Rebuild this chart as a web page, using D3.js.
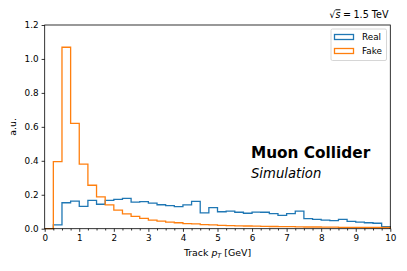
<!DOCTYPE html>
<html>
<head>
<meta charset="utf-8">
<script src="https://cdn.jsdelivr.net/npm/d3@7"></script>
<style>
  body { margin: 0; background: #fff; }
  text { font-family: "DejaVu Sans", sans-serif; fill: #000; }
</style>
</head>
<body>
<div id="chart-area"></div>
<script>
// Datos del histograma (bins de 0.25 GeV entre 0 y 10)
const binWidth = 0.25;
const realValues = [0, 0.022, 0.153, 0.163, 0.132, 0.167, 0.144, 0.167, 0.173, 0.179,
    0.156, 0.159, 0.151, 0.141, 0.136, 0.130, 0.140, 0.161, 0.093, 0.124,
    0.100, 0.104, 0.097, 0.091, 0.098, 0.097, 0.089, 0.079, 0.089, 0.103,
    0.059, 0.055, 0.051, 0.047, 0.055, 0.043, 0.039, 0.035, 0.032, 0.012];
const fakeValues = [0, 0.395, 1.069, 0.621, 0.381, 0.256, 0.187, 0.140, 0.110, 0.087,
    0.073, 0.061, 0.051, 0.045, 0.039, 0.035, 0.030, 0.028, 0.024, 0.022,
    0.020, 0.018, 0.017, 0.016, 0.015, 0.014, 0.013, 0.012, 0.012, 0.011,
    0.010, 0.010, 0.009, 0.009, 0.008, 0.008, 0.008, 0.007, 0.007, 0.007];
const xTicks = [0, 1, 2, 3, 4, 5, 6, 7, 8, 9, 10];
const yTicks = [0.0, 0.2, 0.4, 0.6, 0.8, 1.0, 1.2];
const seriesNames = ["Real", "Fake"];
const seriesColors = ["#1f77b4", "#ff7f0e"];

const width = 407;
const height = 271;
const plotLeft = 44.7, plotRight = 390.3, plotTop = 25, plotBottom = 228.7;

const svg = d3.select("#chart-area")
    .append("svg")
    .attr("width", width)
    .attr("height", height);

const x = d3.scaleLinear().domain([0, 10]).range([plotLeft, plotRight]);
const y = d3.scaleLinear().domain([0, 1.2]).range([plotBottom, plotTop]);

// Histogramas tipo "step"
function stepPoints(values) {
    const pts = [[0, 0]];
    values.forEach((v, i) => {
        pts.push([i * binWidth, v]);
        pts.push([(i + 1) * binWidth, v]);
    });
    pts.push([values.length * binWidth, 0]);
    return pts;
}

const line = d3.line().x(d => x(d[0])).y(d => y(d[1]));

[realValues, fakeValues].forEach((vals, i) => {
    svg.append("path")
        .attr("d", line(stepPoints(vals)))
        .attr("fill", "none")
        .attr("stroke", seriesColors[i])
        .attr("stroke-width", 1.3)
        .attr("stroke-linejoin", "miter");
});

// Ejes
const xAxis = svg.append("g")
    .attr("transform", `translate(0,${plotBottom})`)
    .call(d3.axisBottom(x).tickValues(xTicks).tickFormat(d3.format("d")).tickSize(3.1).tickPadding(3));
const xMinor = svg.append("g")
    .attr("transform", `translate(0,${plotBottom})`)
    .call(d3.axisBottom(x).tickValues(d3.range(0, 10.001, 0.25).filter(v => v % 1 !== 0)).tickSize(1.8).tickFormat(""));
const yAxis = svg.append("g")
    .attr("transform", `translate(${plotLeft},0)`)
    .call(d3.axisLeft(y).tickValues(yTicks).tickFormat(d3.format(".1f")).tickSize(3.1).tickPadding(3));

[xAxis, xMinor, yAxis].forEach(g => {
    g.select(".domain").remove();
    g.selectAll("line").attr("stroke", "#000").attr("stroke-width", 0.8);
    g.selectAll("text").style("font-size", "8.8px").style("font-family", "DejaVu Sans");
});

// Marco
svg.append("rect")
    .attr("x", plotLeft).attr("y", plotTop)
    .attr("width", plotRight - plotLeft).attr("height", plotBottom - plotTop)
    .attr("fill", "none").attr("stroke", "#000").attr("stroke-width", 0.8);

// Etiquetas de ejes
const xl = svg.append("text")
    .attr("x", (plotLeft + plotRight) / 2).attr("y", 256)
    .attr("text-anchor", "middle")
    .style("font-size", "9.4px");
xl.append("tspan").text("Track ");
xl.append("tspan").style("font-style", "italic").text("p");
xl.append("tspan").style("font-style", "italic").style("font-size", "6.6px").attr("dy", 2).text("T");
xl.append("tspan").attr("dy", -2).text(" [GeV]");

svg.append("text")
    .attr("transform", `translate(16,${(plotTop + plotBottom) / 2}) rotate(-90)`)
    .attr("text-anchor", "middle")
    .style("font-size", "9.4px")
    .text("a.u.");

// Energía
const en = svg.append("text")
    .attr("x", 388.5).attr("y", 18.3)
    .attr("text-anchor", "end")
    .style("font-size", "9.6px");
en.append("tspan").text("√");
en.append("tspan").style("font-style", "italic").style("text-decoration", "overline").text("s");
en.append("tspan").attr("dx", 2.5).text("=");
en.append("tspan").attr("dx", 2.5).text("1.5");
en.append("tspan").text(" TeV");

// Textos
svg.append("text")
    .attr("x", 251).attr("y", 157.5)
    .style("font-size", "15.3px").style("font-weight", "bold")
    .text("Muon Collider");
svg.append("text")
    .attr("x", 251).attr("y", 178)
    .style("font-size", "13.2px").style("font-style", "italic")
    .text("Simulation");

// Leyenda
const legend = svg.append("g");
legend.append("rect")
    .attr("x", 331).attr("y", 29)
    .attr("width", 55.5).attr("height", 31.5)
    .attr("rx", 1.5)
    .attr("fill", "#fff").attr("fill-opacity", 0.8)
    .attr("stroke", "#ccc").attr("stroke-width", 0.8);
seriesNames.forEach((name, i) => {
    const yy = 37 + i * 14;
    legend.append("rect")
        .attr("x", 334.5).attr("y", yy - 2.5)
        .attr("width", 19).attr("height", 5)
        .attr("fill", "none")
        .attr("stroke", seriesColors[i]).attr("stroke-width", 1.3);
    legend.append("text")
        .attr("x", 362).attr("y", yy + 3)
        .style("font-size", "8.8px")
        .text(name);
});
</script>
</body>
</html>
